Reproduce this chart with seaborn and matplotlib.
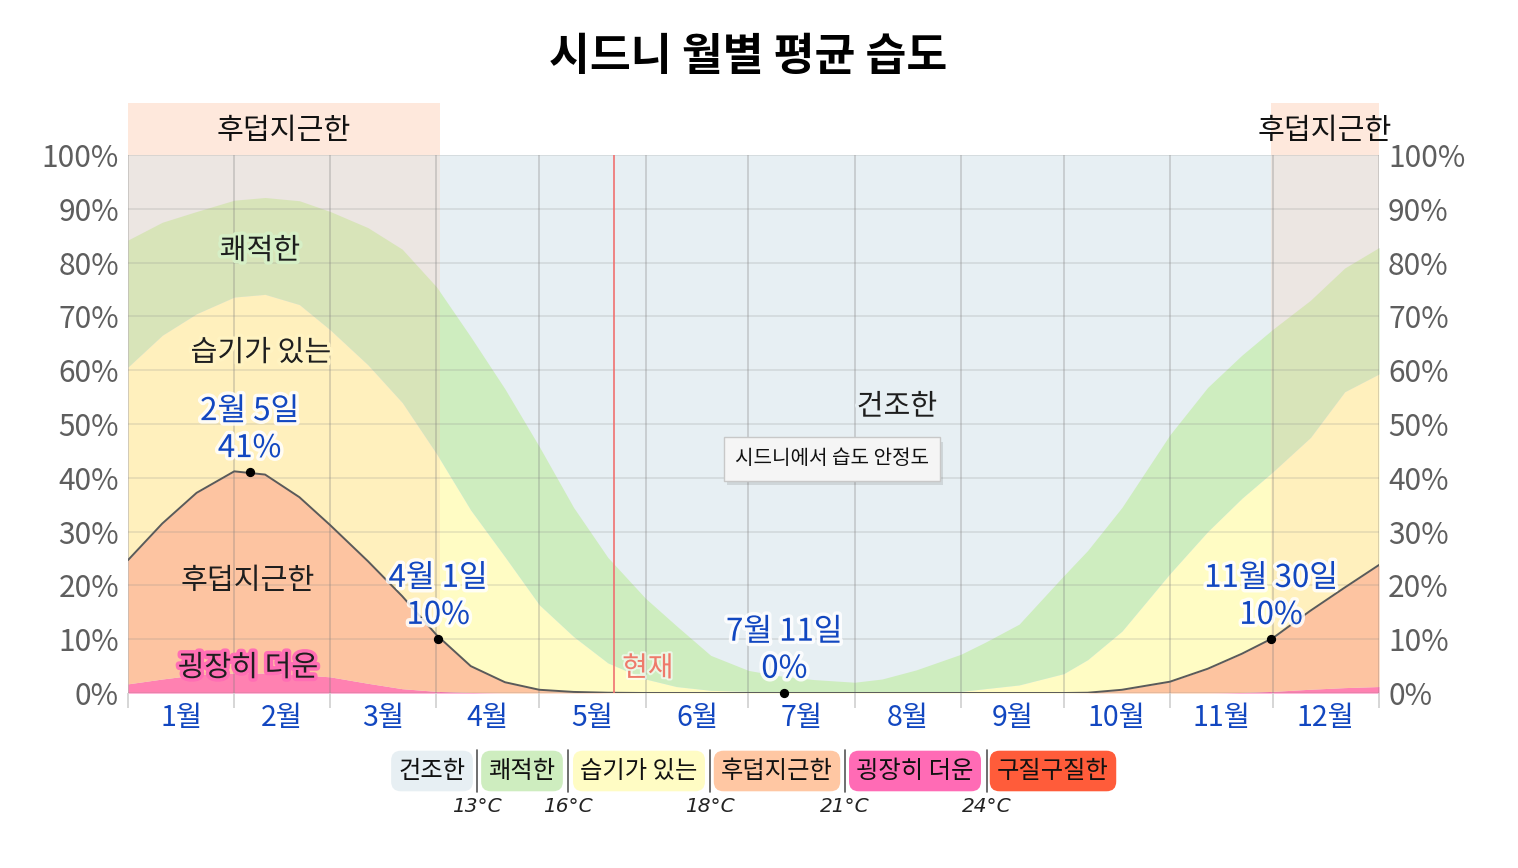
import numpy as np
import matplotlib
matplotlib.use("Agg")
import matplotlib.pyplot as plt
import matplotlib.patheffects as pe
import matplotlib.transforms as mtransforms
from matplotlib.patches import Rectangle
from matplotlib.lines import Line2D
import seaborn as sns

# ---------------- data ----------------
days = [0, 10, 20, 31, 40, 50, 59, 70, 80, 90, 100, 110, 120, 130, 140, 151, 160, 170,
        181, 190, 200, 212, 220, 230, 243, 250, 260, 273, 280, 290, 304, 315, 325, 334,
        345, 355, 365]
# share of time (%) in each humidity comfort level
hot = [1.7, 2.6, 3.4, 3.7, 3.7, 3.4, 3.0, 1.8, 0.8, 0.3, 0.1, 0, 0, 0, 0, 0, 0, 0,
       0, 0, 0, 0, 0, 0, 0, 0, 0, 0, 0, 0, 0, 0, 0.1, 0.3, 0.7, 1.0, 1.2]
muggy = [23.0, 28.9, 33.8, 37.5, 36.9, 33.0, 28.2, 22.7, 17.2, 10.5, 4.9, 2.0, 0.6, 0.2,
         0.05, 0, 0, 0, 0, 0, 0, 0, 0, 0, 0, 0, 0, 0, 0.05, 0.6, 2.1, 4.5, 7.2, 9.9,
         14.6, 18.6, 22.6]
humid = [35.9, 35.0, 33.3, 32.4, 33.5, 35.8, 36.3, 36.5, 36.0, 33.7, 29.0, 23.3, 15.8,
         10.3, 5.55, 2.6, 1.2, 0.5, 0.3, 0.2, 0.2, 0.2, 0.2, 0.2, 0.3, 0.8, 1.5, 3.6,
         6.15, 10.9, 20.1, 25.5, 28.9, 30.9, 32.2, 36.4, 35.5]
comfortable = [23.6, 21.0, 19.0, 18.0, 18.0, 19.3, 22.0, 25.5, 28.5, 31.0, 32.2, 31.2,
               29.4, 24.0, 19.6, 15.0, 11.3, 6.5, 3.9, 3.0, 2.3, 1.8, 2.4, 4.1, 6.9, 8.6,
               11.3, 18.2, 20.3, 23.0, 25.8, 26.8, 26.6, 26.5, 25.5, 23.0, 23.5]

month_starts = [0, 31, 59, 90, 120, 151, 181, 212, 243, 273, 304, 334, 365]
month_labels = ["1월", "2월", "3월", "4월", "5월", "6월", "7월", "8월", "9월", "10월", "11월", "12월"]
pct_ticks = [0, 10, 20, 30, 40, 50, 60, 70, 80, 90, 100]

muggy_seasons = [(0, 91), (333.5, 365)]
today = 141.8

ann_days = [35.5, 90.5, 191.5, 333.5]
ann_vals = [41, 10, 0, 10]
ann_text = ["2월 5일\n41%", "4월 1일\n10%", "7월 11일\n0%", "11월 30일\n10%"]

legend_names = ["건조한", "쾌적한", "습기가 있는", "후덥지근한", "굉장히 더운", "구질구질한"]
legend_temps = ["13°C", "16°C", "18°C", "21°C", "24°C"]

# ---------------- style ----------------
sns.set_theme(style="white")
plt.rcParams['font.family'] = ['Noto Sans CJK KR', 'DejaVu Sans']

c_dry = '#e7eff3'
c_comf = '#ceedbf'
c_humid = '#fffcc4'
c_muggy = '#fdc4a0'
c_hot = '#ff6eb4'
c_mis = '#ff5c3a'
blue = '#1247c0'

W, H = 1518, 868
fig = plt.figure(figsize=(W / 100, H / 100), dpi=100)
L, R, T, B = 128, 1379, 155, 693
ax = fig.add_axes([L / W, 1 - B / H, (R - L) / W, (B - T) / H])
ax.set_facecolor(c_dry)
ax.set_xlim(0, 365)
ax.set_ylim(0, 100)

ax.stackplot(days, hot, muggy, humid, comfortable,
             colors=[c_hot, c_muggy, c_humid, c_comf], linewidth=0, zorder=1)

muggy_top = np.array(hot) + np.array(muggy)
sns.lineplot(x=days, y=muggy_top, ax=ax, color='#5a5a5a', linewidth=1.4, zorder=3)

# muggy season overlay + top band
trans = mtransforms.blended_transform_factory(ax.transData, ax.transAxes)
for a, b in muggy_seasons:
    ax.axvspan(a, b, color='#ffc6a8', alpha=0.22, linewidth=0, zorder=1.5)
    ax.add_patch(Rectangle((a, 1.0), b - a, 52 / (B - T), transform=trans,
                           facecolor='#fee8dc', edgecolor='none', clip_on=False, zorder=0.5))
    ax.text((a + b) / 2, 1.0 + 24 / (B - T), "후덥지근한", transform=trans, ha='center',
            va='center', fontsize=21, color='#111111', clip_on=False, zorder=6)

# today line
ax.axvline(today, color='#f07070', linewidth=1.2, zorder=3.5)
ax.text(today + 2.4, 4.6, "현재", ha='left', va='center', fontsize=20, color='#ee7a6a', zorder=6,
        path_effects=[pe.withStroke(linewidth=3, foreground='white', alpha=0.6)])

# grid / ticks
ax.set_xticks(month_starts)
ax.set_xticklabels([])
ax.set_xticks([(a + b) / 2 for a, b in zip(month_starts[:-1], month_starts[1:])], minor=True)
ax.set_xticklabels(month_labels, minor=True, fontweight='medium')
ax.tick_params(axis='x', which='major', bottom=True, length=11, width=1.2, color='#d0d0d0')
ax.tick_params(axis='x', which='minor', bottom=True, length=0, labelsize=20.5, labelcolor=blue, pad=7.5)
ax.set_yticks(pct_ticks)
ax.set_yticklabels([f"{v}%" for v in pct_ticks])
ax.tick_params(axis='y', left=False, right=False, labelleft=True, labelright=True,
               labelsize=21.5, labelcolor='#5e5e5e', pad=0.5)
ax.set_axisbelow(False)
ax.grid(True, axis='x', which='major', color='#7a7a7a', alpha=0.3, linewidth=1.3)
ax.grid(True, axis='y', which='major', color='#8a8a8a', alpha=0.22, linewidth=1.2)
for s in ax.spines.values():
    s.set_visible(False)

# area labels
def px2data(x, y):
    return (x - L) / (R - L) * 365, (B - y) / (B - T) * 100

def area_label(txt, x, y, glow=None):
    dx, dy = px2data(x, y)
    eff = [pe.withStroke(linewidth=5, foreground=glow)] if glow else None
    ax.text(dx, dy, txt, ha='center', va='center', fontsize=21, color='#1e1e1e',
            zorder=6, path_effects=eff)

area_label("쾌적한", 260, 251, glow='#d6efc6')
area_label("습기가 있는", 261, 353, glow='#fff3c2')
area_label("후덥지근한", 248, 581)
area_label("굉장히 더운", 248, 668, glow=c_hot)
area_label("건조한", 897, 407, glow=c_dry)

# annotations
ax.scatter(ann_days, ann_vals, s=32, color='black', zorder=7, clip_on=False)
for d, v, t in zip(ann_days, ann_vals, ann_text):
    ax.annotate(t, (d, v), xytext=(0, 6), textcoords='offset points', ha='center',
                va='bottom', fontsize=22.5, color=blue, linespacing=1.2, zorder=8,
                fontweight='medium',
                path_effects=[pe.withStroke(linewidth=5, foreground='white', alpha=0.85)])

# tooltip
tx, ty = px2data(832, 459)
tt = ax.text(tx, ty, "시드니에서 습도 안정도", ha='center', va='center', fontsize=14.5,
             color='#111111', zorder=9,
             bbox=dict(boxstyle='square,pad=0.55', facecolor='#f5f5f5', edgecolor='#c8c8c8',
                       linewidth=1))
tt.get_bbox_patch().set_path_effects([pe.SimplePatchShadow(offset=(2, -3), alpha=0.15),
                                      pe.Normal()])

# title
fig.text(748 / W, 1 - 57 / H, "시드니 월별 평균 습도", ha='center', va='center',
         fontsize=32, fontweight='black', color='black')

# legend strip
leg_x = [432, 522, 639, 777, 915, 1053]
leg_c = [c_dry, c_comf, c_humid, '#ffc7a3', '#ff6bb5', c_mis]
for name, x, c in zip(legend_names, leg_x, leg_c):
    fig.text(x / W, 1 - 771 / H, name, ha='center', va='center', fontsize=17.5,
             color='#111111',
             bbox=dict(boxstyle='round,pad=0.3,rounding_size=0.4', facecolor=c,
                       edgecolor='none'))
sep_x = [477, 568, 710, 845, 987]
for x, t in zip(sep_x, legend_temps):
    fig.add_artist(Line2D([x / W, x / W], [1 - 750 / H, 1 - 792 / H], color='#555555',
                          linewidth=1.2, transform=fig.transFigure))
    fig.text(x / W, 1 - 806 / H, t, ha='center', va='center', fontsize=14.5,
             style='italic', color='#222222', family=['DejaVu Sans'])

fig.savefig("out.png", dpi=100)
